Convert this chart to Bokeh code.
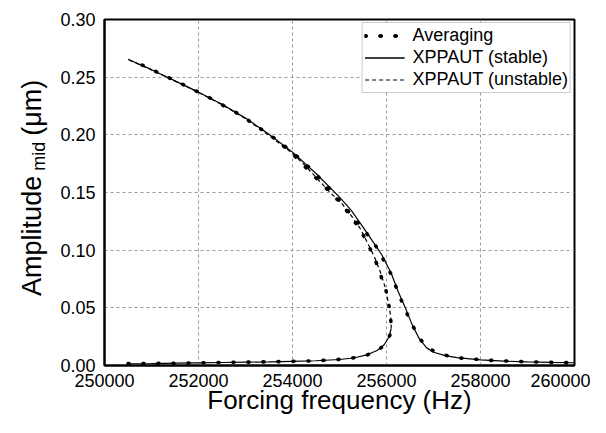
import math
from bokeh.plotting import figure
from bokeh.layouts import row
from bokeh.models import Range1d, FixedTicker, NumeralTickFormatter, Label
from bokeh.embed import file_html
from bokeh.resources import INLINE

# ---------------- data ----------------
# XPPAUT stable branch: upper branch continuing through the jump to the right tail
stable_hi_freq = [250500, 251000, 251500, 252000, 252500, 253000, 253500, 254000, 254500,
                  255000, 255250, 255500, 255700, 255900, 256100, 256250, 256400, 256550,
                  256700, 256850, 257000, 257250, 257500, 258000, 258500, 259000, 259500, 260000]
stable_hi_amp = [0.2655, 0.2565, 0.2468, 0.2370, 0.2265, 0.2145, 0.2005, 0.1850, 0.1665,
                 0.1460, 0.1345, 0.1200, 0.1080, 0.0960, 0.0800, 0.0640, 0.0500, 0.0350,
                 0.0230, 0.0155, 0.0115, 0.0085, 0.0068, 0.0048, 0.0038, 0.0031, 0.0027, 0.0024]

# XPPAUT stable lower branch (up to the fold)
stable_lo_freq = [250500, 251000, 251500, 252000, 252500, 253000, 253500, 254000, 254500,
                  255000, 255300, 255600, 255800, 255950, 256050, 256100]
stable_lo_amp = [0.0015, 0.0017, 0.0020, 0.0023, 0.0026, 0.0029, 0.0032, 0.0036, 0.0041,
                 0.0052, 0.0065, 0.0095, 0.0130, 0.0180, 0.0245, 0.0320]

# XPPAUT unstable branch (from the fold back up to the upper-left)
unstable_freq = [256100, 256095, 256070, 255985, 255870, 255736, 255600, 255452, 255250,
                 255050, 254800, 254550, 254300, 254000, 253500, 253000, 252500, 252000,
                 251500, 251000, 250500]
unstable_amp = [0.0320, 0.0400, 0.0480, 0.0660, 0.0810, 0.0948, 0.1060, 0.1180, 0.1300,
                0.1405, 0.1500, 0.1610, 0.1720, 0.1840, 0.1995, 0.2140, 0.2262, 0.2368,
                0.2466, 0.2563, 0.2653]

# Averaging results: right (stable) part
avg_hi_freq = [250800, 251500, 252200, 252900, 253600, 254000, 254400, 254800, 255200, 255500,
               255800, 256100, 256300, 256500, 256700, 256900, 257200, 257600, 258200, 259000, 259900]
avg_hi_amp = [0.2605, 0.2470, 0.2330, 0.2170, 0.1975, 0.1850, 0.1700, 0.1530, 0.1330, 0.1190,
              0.1020, 0.0790, 0.0580, 0.0390, 0.0235, 0.0145, 0.0092, 0.0064, 0.0045, 0.0032, 0.0024]

# Averaging results: lower branch, fold and unstable part
avg_lo_freq = [250500, 251500, 252500, 253500, 254500, 255200, 255600, 255850, 256000, 256080,
               256100, 256080, 255990, 255740, 255450, 255050, 254550, 254000, 253600]
avg_lo_amp = [0.0016, 0.0020, 0.0026, 0.0032, 0.0041, 0.0058, 0.0093, 0.0140, 0.0200, 0.0270,
              0.0340, 0.0460, 0.0650, 0.0940, 0.1175, 0.1400, 0.1605, 0.1835, 0.1975]

x_ticks = [250000, 252000, 254000, 256000, 258000, 260000]
y_ticks = [0.00, 0.05, 0.10, 0.15, 0.20, 0.25, 0.30]

FONT = "Liberation Sans"
H = 417
LEFT_W = 50
TOP = 19
BOTTOM = 50

# ---------------- main plot ----------------
p = figure(width=540, height=H, x_range=Range1d(250000, 260000), y_range=Range1d(0, 0.30),
           output_backend="svg", toolbar_location=None,
           min_border_left=104 - LEFT_W, min_border_right=16,
           min_border_top=TOP, min_border_bottom=BOTTOM)
p.title.visible = False
p.background_fill_color = "white"
p.border_fill_color = "white"
p.outline_line_color = "black"
p.outline_line_width = 2

p.xaxis.ticker = FixedTicker(ticks=x_ticks)
p.yaxis.ticker = FixedTicker(ticks=y_ticks)
p.xaxis.formatter = NumeralTickFormatter(format="0")
p.yaxis.formatter = NumeralTickFormatter(format="0.00")
for ax in (p.xaxis, p.yaxis):
    ax.axis_line_color = "black"
    ax.axis_line_width = 2
    ax.major_tick_in = 0
    ax.major_tick_out = 0
    ax.minor_tick_in = 0
    ax.minor_tick_out = 0
    ax.major_label_text_font = FONT
    ax.major_label_text_font_size = "18px"
    ax.major_label_text_color = "black"
p.xaxis.major_label_standoff = 8
p.yaxis.major_label_standoff = 9

p.xaxis.axis_label = "Forcing frequency (Hz)"
p.xaxis.axis_label_text_font = FONT
p.xaxis.axis_label_text_font_size = "26px"
p.xaxis.axis_label_text_font_style = "normal"
p.xaxis.axis_label_text_color = "black"
p.xaxis.axis_label_standoff = -5

for g in (p.xgrid, p.ygrid):
    g.grid_line_color = "#9a9a9a"
    g.grid_line_dash = "3 3"
    g.grid_line_width = 1
p.xgrid.ticker = FixedTicker(ticks=x_ticks[1:-1])
p.ygrid.ticker = FixedTicker(ticks=y_ticks[1:-1])

p.line(avg_hi_freq, avg_hi_amp, line_color="black", line_width=3.6, line_dash="1 14",
       line_cap="round", legend_label="Averaging")
p.line(avg_lo_freq, avg_lo_amp, line_color="black", line_width=3.6, line_dash="1 14",
       line_cap="round", legend_label="Averaging")
p.line(stable_hi_freq, stable_hi_amp, line_color="black", line_width=1.2,
       legend_label="XPPAUT (stable)")
p.line(stable_lo_freq, stable_lo_amp, line_color="black", line_width=1.2,
       legend_label="XPPAUT (stable)")
p.line(unstable_freq, unstable_amp, line_color="black", line_width=1.2, line_dash="4 3",
       legend_label="XPPAUT (unstable)")

lg = p.legend[0]
lg.location = "top_right"
lg.margin = 3
lg.label_text_font = FONT
lg.label_text_font_size = "18px"
lg.label_text_color = "black"
lg.glyph_width = 40
lg.glyph_height = 21
lg.label_height = 21
lg.label_standoff = 8
lg.padding = 2
lg.spacing = 1
lg.border_line_color = "#9a9a9a"
lg.border_line_width = 1
lg.background_fill_color = "white"
lg.background_fill_alpha = 1.0

# ---------------- strip holding the y-axis title ----------------
# (its frame is aligned with the main frame; data units = pixels from the top of the page)
ytitle = figure(width=LEFT_W, height=H, x_range=Range1d(0, LEFT_W),
                y_range=Range1d(H - BOTTOM, TOP),
                output_backend="svg", toolbar_location=None,
                x_axis_type=None, y_axis_type=None,
                min_border_left=0, min_border_right=0,
                min_border_top=TOP, min_border_bottom=BOTTOM)
ytitle.title.visible = False
ytitle.outline_line_color = None
ytitle.grid.visible = False
ytitle.background_fill_color = "white"
ytitle.border_fill_color = "white"

common = dict(text_font=FONT, text_color="black",
              text_baseline="alphabetic", text_align="left", angle=math.pi / 2)
ytitle.add_layout(Label(x=31, y=297, text="Amplitude", text_font_size="27px", **common))
ytitle.add_layout(Label(x=38, y=171, text="mid", text_font_size="18px", **common))
ytitle.add_layout(Label(x=31, y=136, text="(\u03bcm)", text_font_size="27px", **common))

layout = row(ytitle, p, spacing=0)
open("out.html", "w").write(file_html(layout, INLINE))
